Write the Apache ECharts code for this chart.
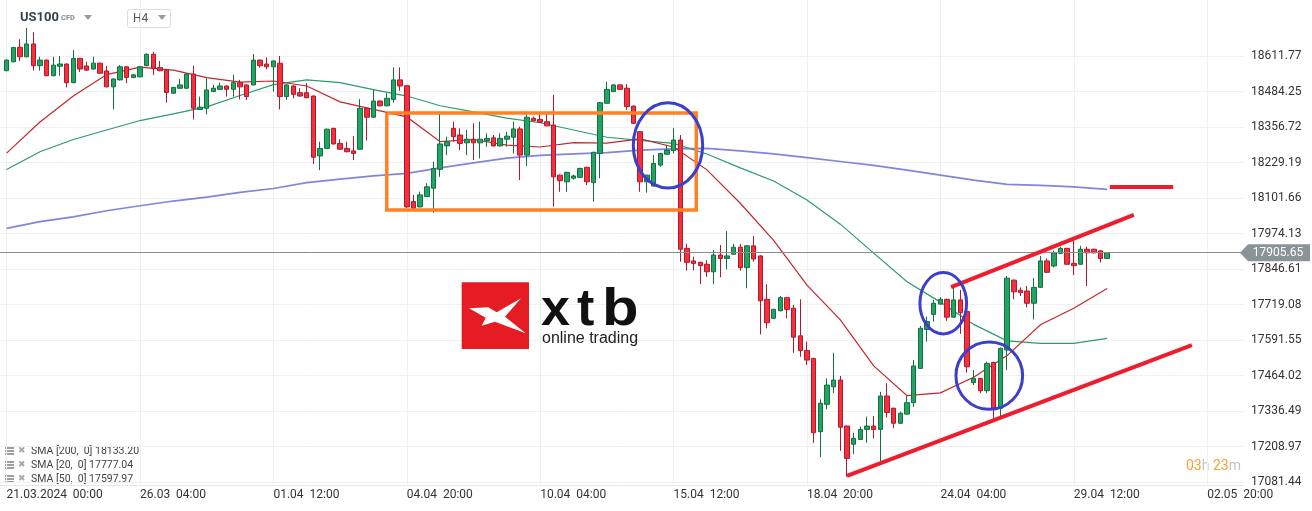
<!DOCTYPE html>
<html><head><meta charset="utf-8">
<script src="https://cdn.jsdelivr.net/npm/echarts@6/dist/echarts.min.js"></script>
<style>html,body{margin:0;padding:0;background:#fff}#c{width:1312px;height:511px}</style>
</head><body><div id="c"></div>
<script>
// ---- data ----
// candles: [open, close, low, high], H4 bars starting 21.03.2024 00:00
const candles = [
[18559,18597,18557,18599],[18591,18642,18589,18645],[18643,18609,18594,18672],[18609,18655,18607,18713],
[18655,18577,18559,18697],[18577,18597,18559,18609],[18597,18541,18539,18599],[18541,18579,18539,18609],
[18575,18583,18541,18612],[18583,18516,18499,18585],[18516,18603,18514,18633],[18603,18565,18554,18605],
[18576,18561,18559,18591],[18565,18586,18563,18609],[18586,18550,18548,18588],[18558,18501,18499,18576],
[18501,18529,18420,18531],[18526,18573,18524,18579],[18573,18535,18514,18575],[18535,18544,18532,18547],
[18537,18573,18535,18576],[18577,18618,18575,18621],[18618,18568,18544,18627],[18570,18559,18557,18594],
[18561,18481,18444,18563],[18478,18499,18476,18501],[18496,18508,18494,18529],[18496,18547,18494,18549],
[18547,18424,18384,18577],[18420,18428,18418,18466],[18424,18490,18402,18532],[18484,18496,18482,18508],
[18492,18504,18490,18516],[18504,18492,18466,18506],[18492,18516,18466,18544],[18516,18501,18456,18526],
[18508,18466,18454,18510],[18508,18597,18506,18619],[18597,18577,18570,18599],[18583,18573,18564,18607],
[18573,18594,18484,18596],[18586,18466,18420,18612],[18466,18508,18454,18510],[18504,18474,18460,18506],
[18480,18468,18466,18496],[18480,18462,18460,18514],[18468,18248,18224,18470],[18253,18280,18202,18304],
[18280,18349,18278,18351],[18352,18296,18294,18354],[18298,18277,18275,18313],[18280,18268,18266,18304],
[18271,18262,18238,18324],[18277,18424,18275,18457],[18424,18392,18308,18426],[18392,18450,18390,18490],
[18450,18433,18431,18452],[18433,18460,18431,18478],[18456,18526,18444,18571],[18526,18504,18487,18571],
[18505,18070,18066,18508],[18089,18065,18063,18113],[18070,18113,18068,18125],[18107,18142,18105,18155],
[18137,18208,18049,18232],[18205,18296,18178,18412],[18289,18304,18256,18322],[18352,18322,18304,18376],
[18328,18298,18274,18352],[18300,18313,18256,18346],[18313,18300,18238,18370],[18300,18313,18244,18376],
[18307,18316,18286,18334],[18318,18289,18287,18328],[18289,18316,18287,18334],[18313,18324,18286,18340],
[18320,18350,18262,18376],[18350,18256,18166,18358],[18256,18392,18217,18412],[18388,18379,18377,18394],
[18384,18374,18372,18406],[18376,18361,18359,18412],[18364,18178,18071,18472],[18184,18164,18124,18186],
[18160,18194,18124,18196],[18173,18181,18168,18186],[18176,18208,18174,18211],[18212,18160,18148,18214],
[18157,18266,18089,18268],[18262,18444,18173,18447],[18442,18492,18440,18519],[18484,18508,18482,18510],
[18508,18492,18490,18510],[18496,18430,18418,18511],[18432,18370,18368,18434],[18340,18160,18124,18342],
[18160,18184,18121,18186],[18145,18226,18143,18256],[18220,18262,18214,18264],[18259,18274,18257,18292],
[18272,18310,18262,18352],[18310,17918,17873,18328],[17921,17871,17841,17937],[17876,17867,17843,17891],
[17871,17859,17793,17873],[17864,17837,17819,17879],[17837,17897,17793,17915],[17897,17885,17817,17933],
[17885,17894,17846,17983],[17900,17925,17898,17937],[17925,17852,17841,17937],[17852,17930,17778,17932],
[17930,17883,17873,17965],[17894,17733,17612,17896],[17738,17654,17634,17792],[17670,17702,17668,17704],
[17697,17744,17695,17750],[17744,17702,17670,17746],[17706,17602,17546,17718],[17607,17554,17532,17738],
[17554,17520,17502,17586],[17526,17259,17223,17528],[17263,17365,17171,17379],[17361,17430,17343,17454],
[17424,17448,17401,17546],[17448,17279,17194,17463],[17283,17167,17101,17285],[17218,17239,17183,17259],
[17235,17271,17233,17281],[17271,17283,17223,17317],[17283,17271,17239,17319],[17271,17391,17147,17406],
[17391,17332,17314,17437],[17347,17293,17275,17349],[17293,17329,17291,17335],[17326,17367,17324,17391],
[17367,17499,17352,17520],[17490,17634,17488,17642],[17630,17658,17586,17676],[17684,17724,17658,17736],
[17721,17738,17719,17746],[17738,17674,17661,17740],[17674,17736,17672,17783],[17736,17690,17614,17772],
[17694,17496,17475,17696],[17439,17454,17430,17484],[17454,17410,17401,17456],[17410,17508,17401,17514],
[17511,17347,17305,17513],[17347,17562,17319,17565],[17556,17814,17484,17822],[17807,17765,17738,17809],
[17771,17763,17750,17781],[17768,17724,17709,17786],[17724,17781,17666,17814],[17781,17876,17779,17894],
[17876,17835,17833,17885],[17858,17905,17853,17913],[17903,17921,17901,17927],[17921,17864,17862,17923],
[17867,17859,17825,17951],[17864,17918,17862,17930],[17918,17905,17786,17927],[17918,17905,17903,17920],
[17912,17885,17870,17915],[17885,17905.65,17883,17908]
];
const lastPrice = 17905.65;

// moving averages, sampled every 5 bars
const smaIdx = [0,5,10,15,20,25,30,35,40,45,50,55,60,65,70,75,80,85,90,95,100,105,110,115,120,125,130,135,140,145,150,155,160,165];
const sma20 = [18263,18375,18468,18545,18572,18561,18534,18518,18522,18504,18447,18420,18393,18304,18312,18292,18285,18301,18299,18314,18285,18203,18083,17950,17789,17664,17499,17392,17402,17458,17536,17647,17706,17777.04];
const sma50 = [18204,18268,18312,18346,18380,18404,18429,18470,18509,18526,18516,18491,18468,18433,18411,18389,18372,18346,18320,18309,18298,18260,18210,18163,18095,18008,17904,17801,17728,17648,17589,17580,17580,17597.97];
const sma200 = [17993,18017,18034,18056,18074,18091,18105,18122,18136,18157,18170,18181,18190,18210,18228,18245,18255,18260,18265,18274,18278,18280,18271,18260,18247,18233,18219,18202,18184,18166,18151,18147,18142,18133.20];

// axis ticks
const xTickIdx = [0,20,40,60,80,100,120,140,160,180];
const xTickLabels = ['21.03.2024  00:00','26.03  04:00','01.04  12:00','04.04  20:00','10.04  04:00','15.04  12:00','18.04  20:00','24.04  04:00','29.04  12:00','02.05  20:00'];
const yTicks = [18611.77,18484.25,18356.72,18229.19,18101.66,17974.13,17846.61,17719.08,17591.55,17464.02,17336.49,17208.97,17081.44];

// drawn annotations (bar index, price)
const boxRange = [[57.0,18407],[103.4,18407],[103.4,18059],[57.0,18059],[57.0,18407]];
const upperChannel = [[141.6,17782],[169.0,18041]];
const lowerChannel = [[126.0,17104],[177.7,17574]];
const smaMarker = [[165.4,18141],[174.9,18141]];
// ellipses: [centerIdx, centerPrice, radiusBars, radiusPrice]
const ellipses = [[99.16,18291,5.2,153],[140.43,17724,3.5,110],[147.33,17464,5.0,121]];

const smaLegend = ['SMA [200,  0] 18133.20','SMA [20,  0] 17777.04','SMA [50,  0] 17597.97'];

// ---- chart ----
const chart = echarts.init(document.getElementById('c'), null, {renderer:'canvas'});
const FONT = 'Roboto';
const LOGO = '"Liberation Sans", Arial, sans-serif';
const pair = (idx, vals) => idx.map((x,i)=>[x, vals[i]]);

function lineSeries(data, color, width, z){
  return {type:'line', data, symbol:'none', silent:true, clip:false, z:z||3, animation:false,
    lineStyle:{color, width, join:'miter', cap:'butt'}};
}

const legendG = [];
smaLegend.forEach((txt,i)=>{
  const y = 451 + i*14;
  legendG.push({type:'rect', shape:{x:5,y:y-4,width:9,height:2}, style:{fill:'#9e9e9e'}, silent:true});
  legendG.push({type:'rect', shape:{x:5,y:y-1,width:9,height:2}, style:{fill:'#9e9e9e'}, silent:true});
  legendG.push({type:'rect', shape:{x:5,y:y+2,width:9,height:2}, style:{fill:'#9e9e9e'}, silent:true});
  legendG.push({type:'text', x:18, y:y, style:{text:'✖', fill:'#a8a8a8', font:'9px '+FONT, verticalAlign:'middle'}, silent:true});
  legendG.push({type:'text', x:31, y:y, style:{text:txt, fill:'#444', font:'10.5px '+FONT, verticalAlign:'middle'}, silent:true});
});

chart.setOption({
  animation:false,
  backgroundColor:'#fff',
  grid:{left:0, right:69, top:0, bottom:26, containLabel:false},
  xAxis:{
    type:'value', min:-0.99, max:185.37,
    axisLine:{show:true, onZero:false, lineStyle:{color:'#e6e6e6'}},
    axisTick:{show:false, customValues:xTickIdx},
    axisLabel:{customValues:xTickIdx, formatter:(v)=>{const k=xTickIdx.indexOf(Math.round(v)); return k>=0?xTickLabels[k]:'';},
      align:'left', margin:4, color:'#333', fontSize:12, fontFamily:FONT},
    splitLine:{show:true, lineStyle:{color:'#f0f0f0', width:1}}
  },
  yAxis:{
    type:'value', position:'right', min:17071.36, max:18812.85, scale:true,
    axisLine:{show:false}, axisTick:{show:false, customValues:yTicks},
    axisLabel:{customValues:yTicks, formatter:(v)=>v.toFixed(2), margin:8, color:'#333', fontSize:12, fontFamily:FONT},
    splitLine:{show:true, lineStyle:{color:'#f0f0f0', width:1}}
  },
  series:[
    lineSeries(pair(smaIdx, sma200), 'rgba(98,102,210,0.8)', 1.7, 2),
    lineSeries(pair(smaIdx, sma50), '#2b9c69', 1.2, 2),
    lineSeries(pair(smaIdx, sma20), '#c4262e', 1.2, 2),
    {
      type:'candlestick', z:4,
      data: candles.map((r,i)=>[i, r[0], r[1], r[2], r[3]]),
      encode:{x:0, y:[1,2,3,4]},
      barWidth:5,
      itemStyle:{color:'#22a465', color0:'#f2313f', borderColor:'#12703f', borderColor0:'#b5172a', borderWidth:1},
      markLine:{silent:true, symbol:'none', animation:false, data:[{yAxis:lastPrice}],
        lineStyle:{color:'#8c8c8c', width:1, type:'solid'}, label:{show:false}}
    },
    lineSeries(boxRange, '#ff8125', 3.5, 5),
    lineSeries(upperChannel, '#ee1d2d', 4, 5),
    lineSeries(lowerChannel, '#ee1d2d', 4, 5),
    lineSeries(smaMarker, '#ee1d2d', 4, 5),
    {
      type:'custom', z:6, silent:true, clip:false,
      data: ellipses,
      encode:{x:0, y:1},
      renderItem:(params, api)=>{
        const c = api.coord([api.value(0), api.value(1)]);
        const s = api.size([api.value(2), api.value(3)]);
        return {type:'ellipse', shape:{cx:c[0], cy:c[1], rx:Math.abs(s[0]), ry:Math.abs(s[1])},
          style:{fill:'none', stroke:'#3c3fcc', lineWidth:3}};
      }
    },
    {
      type:'line', data:[], silent:true, z:7, clip:false,
      markPoint:{silent:true, animation:false,
        data:[{coord:[185.37, lastPrice], value:lastPrice}],
        symbol:'path://M0,8.5 L8,0 L70,0 L70,17 L8,17 Z', symbolSize:[70,17], symbolOffset:[32,0], symbolKeepAspect:false,
        itemStyle:{color:'#8a9398'},
        label:{show:true, position:'inside', offset:[3,0], formatter:()=>lastPrice.toFixed(2), color:'#fff', fontSize:12, fontFamily:FONT}
      }
    }
  ],
  graphic:[
    // header
    {type:'text', x:20, y:18, style:{text:'US100', fill:'#37424a', font:'bold 13px '+FONT, verticalAlign:'middle'}},
    {type:'text', x:61, y:18, style:{text:'CFD', fill:'#8a8a8a', font:'bold 7.5px '+FONT, verticalAlign:'middle'}},
    {type:'polygon', shape:{points:[[84,15],[92,15],[88,20]]}, style:{fill:'#9a9a9a'}},
    {type:'rect', shape:{x:127.5,y:9.5,width:43,height:18,r:2}, style:{fill:'#fff', stroke:'#dcdcdc', lineWidth:1}},
    {type:'text', x:133, y:19, style:{text:'H4', fill:'#555', font:'12px '+FONT, verticalAlign:'middle'}},
    {type:'polygon', shape:{points:[[158,15],[166,15],[162,20]]}, style:{fill:'#9a9a9a'}},
    // watermark logo
    {type:'rect', shape:{x:461.7,y:282.3,width:67.3,height:66.7}, style:{fill:'#e51c24'}, z:1},
    {type:'polygon', shape:{points:[[469,308.3],[488.3,307.3],[496.7,312.3],[521,298.3],[505,316.7],[525.7,333.3],[495,321.7],[481.7,325.7],[485.7,317.7]]}, style:{fill:'#fff'}, z:1},
    {type:'text', x:541, y:285, style:{text:'x', fill:'#111', font:'bold 52px '+LOGO, verticalAlign:'top'}, z:1},
    {type:'text', x:577, y:285, style:{text:'t', fill:'#111', font:'bold 52px '+LOGO, verticalAlign:'top'}, z:1},
    {type:'text', x:602, y:285, scaleX:1.15, style:{text:'b', fill:'#111', font:'bold 52px '+LOGO, verticalAlign:'top'}, z:1},
    {type:'text', x:542, y:331, style:{text:'online trading', fill:'#222', font:'16px '+LOGO, verticalAlign:'top'}, z:1},
    // countdown
    {type:'text', x:1186, y:466, style:{text:'{o|03}{g|h} {o|23}{g|m}', verticalAlign:'middle', font:'14px '+FONT,
      rich:{o:{fill:'#f7a12f', font:'14px '+FONT}, g:{fill:'#c4c4c4', font:'14px '+FONT}}}}
  ].concat(legendG)
});
</script>
</body></html>
